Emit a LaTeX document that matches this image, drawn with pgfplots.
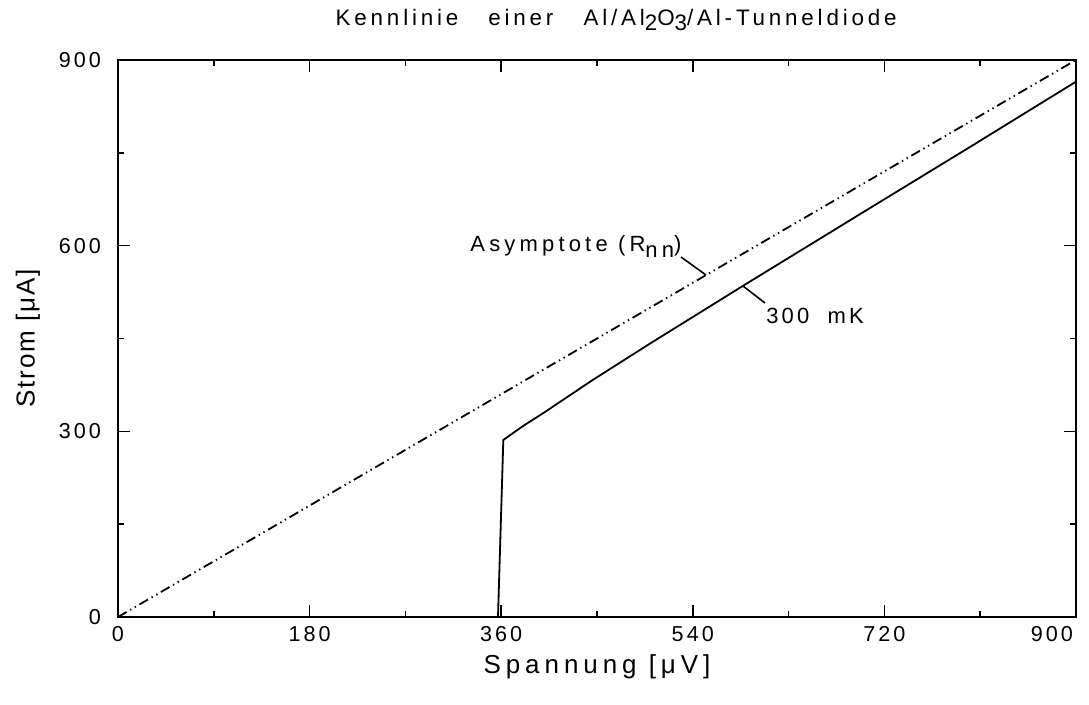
\documentclass[border=0pt]{standalone}
\usepackage{fontspec}
\setmainfont{Liberation Sans}[LetterSpace=14]
\newfontfamily\titlefont{Liberation Sans}[LetterSpace=17]
\newfontfamily\labelfont{Liberation Sans}[LetterSpace=19]
\newfontfamily\ylabelfont{Liberation Sans}[LetterSpace=7]
\usepackage{pgfplots}
\pgfplotsset{compat=1.18}
\begin{document}
\begin{tikzpicture}
\useasboundingbox (-59pt,-44pt) rectangle (485.5pt,308.5pt);
\begin{axis}[
  at={(0,0)}, anchor=south west,
  scale only axis, width=479pt, height=278.5pt,
  xmin=0, xmax=900, ymin=0, ymax=900,
  xtick={0,180,360,540,720,900},
  xticklabels={0,180,360,540,720,\makebox[0pt][r]{900\hspace{1.5pt}}},
  ytick={0,300,600,900},
  minor xtick={90,270,450,630,810},
  minor ytick={150,450,750},
  tick align=inside,
  major tick length=6pt, minor tick length=3pt,
  every tick/.style={black, line width=0.8pt},
  axis line style={line width=1pt},
  /pgf/number format/assume math mode=true,
  tick label style={font=\fontsize{10.8}{13}\selectfont},
  xticklabel style={yshift=-1pt},
  yticklabel style={xshift=-5pt},
  xlabel={Spannung [μV]},
  ylabel={Strom [μA]},
  xlabel style={font=\labelfont\fontsize{13}{15}\selectfont,
    at={(axis description cs:0.5,-0.0898)}, anchor=center},
  ylabel style={font=\ylabelfont\fontsize{13}{15}\selectfont,
    at={(axis description cs:-0.094,0.5)}, anchor=center},
  clip=false,
]
\addplot[black, line width=0.9pt,
  dash pattern=on 5pt off 2pt on 0.7pt off 2pt on 0.7pt off 2pt]
  coordinates {(0,0) (900,900)};
\addplot[black, line width=0.9pt] coordinates {
  (357,0) (362,286) (380,308) (400,330) (446,383) (500,442)
  (588,536) (700,654) (800,759) (900,865)};
\draw[black, line width=0.8pt] (axis cs:528.9,581.7) -- (axis cs:552.4,552.6);
\draw[black, line width=0.8pt] (axis cs:587.2,534.8) -- (axis cs:607.8,507.4);
\node[anchor=base west, inner sep=0pt, font=\labelfont\fontsize{11}{13}\selectfont]
  at (axis cs:330.7,590) {Asymptote (R\raisebox{-0.45ex}{nn})};
\node[anchor=base west, inner sep=0pt, font=\fontsize{11}{13}\selectfont]
  at (axis cs:608.8,475) {300\ \ mK};
\node[anchor=center, inner sep=0pt, font=\titlefont\fontsize{11.2}{13}\selectfont]
  at (axis description cs:0.52,1.0718)
  {Kennlinie\ \ \ einer\ \ \ Al/Al\raisebox{-0.45ex}{2}O\raisebox{-0.45ex}{3}/Al-Tunneldiode};
\end{axis}
\end{tikzpicture}
\end{document}
